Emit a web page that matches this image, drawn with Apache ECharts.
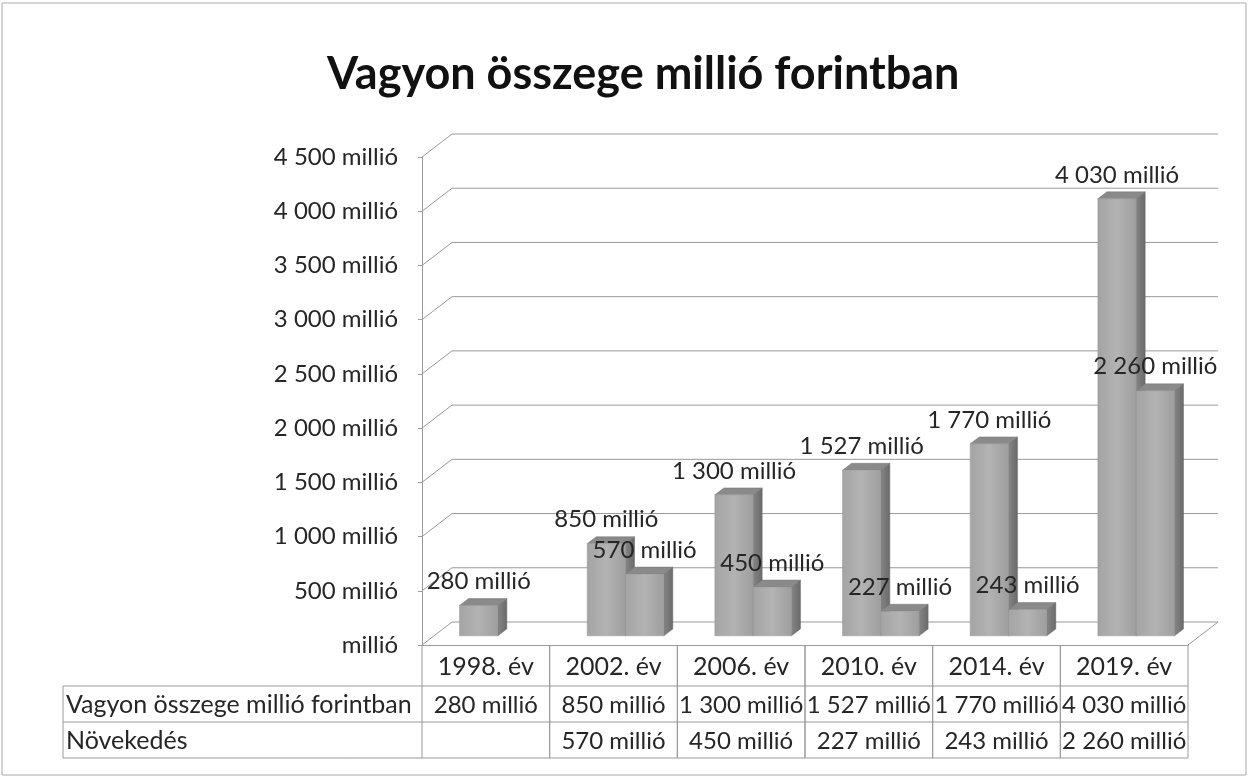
<!DOCTYPE html>
<html>
<head>
<meta charset="utf-8">
<script src="https://cdn.jsdelivr.net/npm/echarts@6/dist/echarts.min.js"></script>
<style>
html,body{margin:0;padding:0;background:#fff;}
#chart{width:1249px;height:778px;}
</style>
</head>
<body>
<div id="chart"></div>
<script>
// ---- data ----
const titleText = 'Vagyon összege millió forintban';
const categories = ['1998. év', '2002. év', '2006. év', '2010. év', '2014. év', '2019. év'];
const rowNames = ['Vagyon összege millió forintban', 'Növekedés'];
const vagyon = [280, 850, 1300, 1527, 1770, 4030];
const novekedes = [null, 570, 450, 227, 243, 2260];
const yTicks = [0, 500, 1000, 1500, 2000, 2500, 3000, 3500, 4000, 4500];

// ---- style constants ----
const FONT = 'Lato';
const DX = 30, DY = -23;      // full depth offset of the 3D box
const D0 = 0.4, DD = 0.3;     // bar front depth and bar depth (fractions)
const GRID_COLOR = '#9a9a9a';
const TEXT_COLOR = '#262626';
const LABEL_SIZE = 24;
const TABLE_SIZE = 24;

function fmt(v) {
  if (v == null || isNaN(v)) return '';
  if (v === 0) return 'millió';
  return String(v).replace(/\B(?=(\d{3})+(?!\d))/g, ' ') + ' millió';
}

const chart = echarts.init(document.getElementById('chart'), null, {renderer: 'canvas'});

function gridRender(params, api) {
  const v = api.value(0);
  const n = categories.length;
  const bw = api.size([1, 0])[0];
  const pL = api.coord([0, v]);
  const pR = api.coord([n - 1, v]);
  const xL = pL[0] - bw / 2, xR = pR[0] + bw / 2, y = pL[1];
  const pts = [[xL, y], [xL + DX, y + DY], [xR + DX, y + DY]];
  if (v === 0) pts.push([xR, y]);
  return {
    type: 'polyline',
    shape: {points: pts},
    style: {stroke: GRID_COLOR, lineWidth: 1, fill: null}
  };
}

function barRender(slot) {
  return function (params, api) {
    const v = api.value(1);
    if (v == null || isNaN(v)) return null;
    const i = api.value(0);
    const c = api.coord([i, v]);
    const c0 = api.coord([i, 0]);
    const bw = api.size([1, 0])[0];
    const xl = c[0] - bw / 2 + bw * (0.2 + 0.3 * slot) + D0 * DX;
    const xr = xl + bw * 0.3;
    const yt = c[1] + D0 * DY, yb = c0[1] + D0 * DY;
    const ddx = DD * DX, ddy = DD * DY;
    return {
      type: 'group',
      children: [
        {
          type: 'polygon',
          shape: {points: [[xr, yt], [xr + ddx, yt + ddy], [xr + ddx, yb + ddy], [xr, yb]]},
          style: {fill: new echarts.graphic.LinearGradient(0, 0, 1, 0, [
            {offset: 0, color: '#858585'}, {offset: 1, color: '#6a6a6a'}]), stroke: '#666', lineWidth: 0.5}
        },
        {
          type: 'polygon',
          shape: {points: [[xl, yt], [xr, yt], [xr + ddx, yt + ddy], [xl + ddx, yt + ddy]]},
          style: {fill: '#8a8a8a', stroke: '#777', lineWidth: 0.5}
        },
        {
          type: 'rect',
          shape: {x: xl, y: yt, width: xr - xl, height: yb - yt},
          style: {fill: new echarts.graphic.LinearGradient(0, 0, 1, 0, [
            {offset: 0, color: '#a4a4a4'}, {offset: 0.5, color: '#b3b3b3'}, {offset: 1, color: '#9e9e9e'}]),
            stroke: '#959595', lineWidth: 0.5}
        },
        {
          type: 'text',
          z2: 100,
          style: {
            text: fmt(v), x: (xl + xr) / 2, y: yt - 24,
            align: 'center', verticalAlign: 'middle',
            font: LABEL_SIZE + 'px ' + FONT, fill: TEXT_COLOR
          }
        }
      ]
    };
  };
}

function tableRender(params, api) {
  const i = api.value(0);
  const n = categories.length;
  const bw = api.size([1, 0])[0];
  const c0 = api.coord([i, 0]);
  const x0 = c0[0] - bw / 2, x1 = c0[0] + bw / 2, y0 = c0[1];
  const r1 = y0 + 41, r2 = y0 + 77, r3 = y0 + 113;
  const line = (a, b) => ({type: 'line', shape: {x1: a[0], y1: a[1], x2: b[0], y2: b[1]},
    style: {stroke: GRID_COLOR, lineWidth: 1}});
  const txt = (t, x, y, al, sz) => ({type: 'text', style: {text: t, x: x, y: y, align: al || 'center',
    verticalAlign: 'middle', font: (sz || TABLE_SIZE) + 'px ' + FONT, fill: TEXT_COLOR}});
  const children = [
    line([x0, y0], [x0, r3]),
    line([x1, y0], [x1, r3]),
    txt(fmt(vagyon[i]), c0[0], (r1 + r2) / 2 + 1),
    txt(fmt(novekedes[i]), c0[0], (r2 + r3) / 2 + 1)
  ];
  if (i === 0) {
    const xr = api.coord([n - 1, 0])[0] + bw / 2;
    const lx = 63;
    children.push(line([lx, r1], [xr, r1]), line([lx, r2], [xr, r2]), line([lx, r3], [xr, r3]),
      line([lx, r1], [lx, r3]),
      txt(rowNames[0], lx + 3, (r1 + r2) / 2 + 1, 'left', 25),
      txt(rowNames[1], lx + 3, (r2 + r3) / 2 + 1, 'left', 25));
  }
  return {type: 'group', children: children};
}

const option = {
  backgroundColor: '#ffffff',
  animation: false,
  title: {
    text: titleText,
    left: 322, top: 47,
    textStyle: {fontFamily: FONT, fontWeight: 'bold', fontSize: 45, color: '#111'}
  },
  graphic: [{
    type: 'rect', shape: {x: 2, y: 3, width: 1244, height: 772},
    style: {fill: null, stroke: '#aaaaaa', lineWidth: 1}, silent: true
  }],
  grid: {left: 422, right: 61, top: 157, bottom: 133},
  xAxis: {
    type: 'category',
    data: categories,
    axisLine: {show: true, lineStyle: {color: GRID_COLOR}},
    axisTick: {show: false},
    axisLabel: {margin: 9, fontFamily: FONT, fontSize: 25, color: TEXT_COLOR}
  },
  yAxis: {
    type: 'value',
    min: 0, max: 4500, interval: 500,
    axisLine: {show: true, lineStyle: {color: GRID_COLOR}},
    axisTick: {show: true, length: 4, lineStyle: {color: GRID_COLOR}},
    splitLine: {show: false},
    axisLabel: {margin: 24, fontFamily: FONT, fontSize: LABEL_SIZE, color: TEXT_COLOR, formatter: fmt}
  },
  series: [
    {
      type: 'custom', name: 'grid', silent: true, z: 1,
      renderItem: gridRender,
      data: yTicks.map(v => [v]),
      encode: {y: 0}
    },
    {
      type: 'custom', name: rowNames[0], z: 3,
      renderItem: barRender(0),
      data: vagyon.map((v, i) => [i, v]),
      encode: {x: 0, y: 1}
    },
    {
      type: 'custom', name: rowNames[1], z: 4,
      renderItem: barRender(1),
      data: novekedes.map((v, i) => [i, v == null ? '-' : v]),
      encode: {x: 0, y: 1}
    },
    {
      type: 'custom', name: 'table', silent: true, z: 5,
      renderItem: tableRender,
      data: categories.map((c, i) => [i]),
      encode: {x: 0}
    }
  ]
};
chart.setOption(option);
</script>
</body>
</html>
